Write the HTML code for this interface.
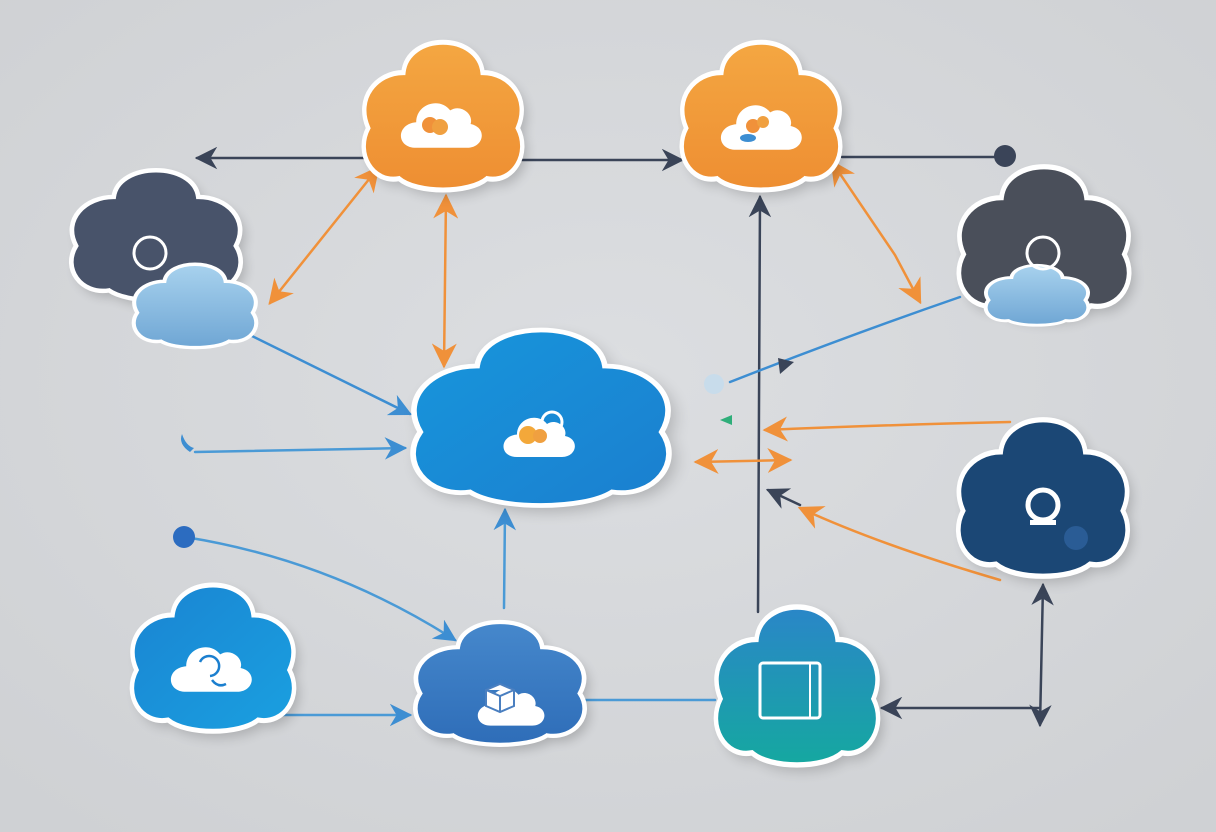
<!DOCTYPE html>
<html><head><meta charset="utf-8"><style>
html,body{margin:0;padding:0;background:#d5d7da;}
svg{display:block}
</style></head><body>
<svg width="1216" height="832" viewBox="0 0 1216 832" xmlns="http://www.w3.org/2000/svg">
<defs>
<radialGradient id="bg" cx="50%" cy="45%" r="70%"><stop offset="0" stop-color="#dcdee1"/><stop offset="1" stop-color="#cfd1d4"/></radialGradient>
<path id="c" d="M -45 -45 C -40 -85 40 -85 45 -45 C 75 -45 100 -20 85 10 C 100 35 80 65 50 60 C 30 75 -30 75 -50 60 C -80 65 -100 35 -85 10 C -100 -20 -75 -45 -45 -45 Z"/>
<path id="sc" d="M -14 14 C -26 14 -26 0 -14 -1 C -14 -12 0 -16 6 -8 C 12 -12 20 -6 18 0 C 28 2 26 14 16 14 Z"/>
<linearGradient id="or" x1="0" y1="0" x2="0" y2="1"><stop offset="0" stop-color="#f4a742"/><stop offset="1" stop-color="#ee8e32"/></linearGradient>
<linearGradient id="bb" x1="0" y1="0" x2="1" y2="1"><stop offset="0" stop-color="#1796dc"/><stop offset="1" stop-color="#1b7fcf"/></linearGradient>
<linearGradient id="bl" x1="0" y1="0" x2="1" y2="1"><stop offset="0" stop-color="#1a84d2"/><stop offset="1" stop-color="#1aa0e0"/></linearGradient>
<linearGradient id="bm" x1="0" y1="0" x2="0" y2="1"><stop offset="0" stop-color="#4688cc"/><stop offset="1" stop-color="#2e6db8"/></linearGradient>
<linearGradient id="tl" x1="0" y1="0" x2="0" y2="1"><stop offset="0" stop-color="#2a86c8"/><stop offset="1" stop-color="#15a8a0"/></linearGradient>
<linearGradient id="lb" x1="0" y1="0" x2="0" y2="1"><stop offset="0" stop-color="#a8d2ee"/><stop offset="1" stop-color="#6fa6d4"/></linearGradient>
<filter id="sh" x="-20%" y="-20%" width="140%" height="140%"><feGaussianBlur stdDeviation="6"/></filter>
<marker id="ad" viewBox="0 0 10 10" refX="9" refY="5" markerWidth="9" markerHeight="9" orient="auto-start-reverse"><path d="M0 0L10 5L0 10L3 5z" fill="#3a4458"/></marker>
<marker id="ao" viewBox="0 0 10 10" refX="9" refY="5" markerWidth="10" markerHeight="10" orient="auto-start-reverse"><path d="M0 0L10 5L0 10L3 5z" fill="#f0913a"/></marker>
<marker id="ab" viewBox="0 0 10 10" refX="9" refY="5" markerWidth="9" markerHeight="9" orient="auto-start-reverse"><path d="M0 0L10 5L0 10L3 5z" fill="#3d8ed2"/></marker>
</defs>
<rect width="1216" height="832" fill="url(#bg)"/>

<g fill="none" stroke-width="2.5" stroke-linecap="round">
<line x1="380" y1="158" x2="197" y2="158" stroke="#3a4458" marker-end="url(#ad)"/>
<line x1="515" y1="160" x2="682" y2="160" stroke="#3a4458" marker-end="url(#ad)"/>
<line x1="842" y1="157" x2="1000" y2="157" stroke="#3a4458"/>
<circle cx="1005" cy="156" r="11" fill="#3a4458" stroke="none"/>
<line x1="378" y1="168" x2="270" y2="303" stroke="#f0913a" marker-start="url(#ao)" marker-end="url(#ao)"/>
<line x1="446" y1="196" x2="444" y2="366" stroke="#f0913a" marker-start="url(#ao)" marker-end="url(#ao)"/>
<path d="M832 162 L895 255 L920 302" stroke="#f0913a" marker-start="url(#ao)" marker-end="url(#ao)"/>
<line x1="760" y1="197" x2="758" y2="612" stroke="#3a4458" marker-start="url(#ad)"/>
<line x1="250" y1="335" x2="410" y2="414" stroke="#3d8ed2" marker-end="url(#ab)"/>
<line x1="195" y1="452" x2="405" y2="448" stroke="#4a9ad6" marker-end="url(#ab)"/>
<path d="M185 537 Q330 560 455 640" stroke="#4a9ad6" marker-end="url(#ab)"/>
<circle cx="184" cy="537" r="11" fill="#2c6cc0" stroke="none"/>
<line x1="504" y1="608" x2="505" y2="510" stroke="#4a9ad6" marker-end="url(#ab)"/>
<line x1="272" y1="715" x2="410" y2="715" stroke="#4a9ad6" marker-end="url(#ab)"/>
<line x1="586" y1="700" x2="715" y2="700" stroke="#4a9ad6"/>
<line x1="1040" y1="708" x2="882" y2="708" stroke="#3a4458" marker-end="url(#ad)"/>
<line x1="1043" y1="585" x2="1040" y2="725" stroke="#3a4458" marker-start="url(#ad)" marker-end="url(#ad)"/>
<path d="M960 297 Q850 335 730 382" stroke="#3d8ed2"/>
<path d="M778 358 l16 4 l-14 12z" fill="#3a4458" stroke="none"/>
<circle cx="714" cy="384" r="10" fill="#c8dceb" stroke="none"/>
<path d="M1010 422 Q880 425 765 430" stroke="#f0913a" marker-end="url(#ao)"/>
<line x1="790" y1="460" x2="696" y2="462" stroke="#f0913a" marker-start="url(#ao)" marker-end="url(#ao)"/>
<path d="M1000 580 Q880 545 800 508" stroke="#f0913a" marker-end="url(#ao)"/>
<line x1="800" y1="505" x2="768" y2="490" stroke="#3a4458" marker-end="url(#ad)"/>
<path d="M720 420 l12 -5 l0 10z" fill="#2fae7a" stroke="none"/>
<path d="M190 452 q-12 -8 -8 -18 q4 12 12 14z" fill="#3d8ed2" stroke="none"/>
</g>

<g>
<use href="#c" transform="translate(448,124) scale(0.88,1.01)" fill="#000" opacity=".18" filter="url(#sh)"/>
<use href="#c" transform="translate(443,118) scale(0.88,1.01)" fill="url(#or)" stroke="#fff" stroke-width="5"/>
<use href="#c" transform="translate(766,124) scale(0.88,1.01)" fill="#000" opacity=".18" filter="url(#sh)"/>
<use href="#c" transform="translate(761,118) scale(0.88,1.01)" fill="url(#or)" stroke="#fff" stroke-width="5"/>
<use href="#c" transform="translate(161,243) scale(0.94,0.89)" fill="#000" opacity=".18" filter="url(#sh)"/>
<use href="#c" transform="translate(156,237) scale(0.94,0.89)" fill="#48536a" stroke="#fff" stroke-width="5"/>
<use href="#c" transform="translate(1049,250) scale(0.945,1.03)" fill="#000" opacity=".18" filter="url(#sh)"/>
<use href="#c" transform="translate(1044,244) scale(0.945,1.03)" fill="#4a4f5a" stroke="#fff" stroke-width="5"/>
<use href="#c" transform="translate(547,426) scale(1.42,1.2)" fill="#000" opacity=".2" filter="url(#sh)"/>
<use href="#c" transform="translate(541,420) scale(1.42,1.2)" fill="url(#bb)" stroke="#fff" stroke-width="4"/>
<use href="#c" transform="translate(1048,506) scale(0.94,1.07)" fill="#000" opacity=".18" filter="url(#sh)"/>
<use href="#c" transform="translate(1043,500) scale(0.94,1.07)" fill="#1b4775" stroke="#fff" stroke-width="5"/>
<use href="#c" transform="translate(218,666) scale(0.9,1.0)" fill="#000" opacity=".18" filter="url(#sh)"/>
<use href="#c" transform="translate(213,660) scale(0.9,1.0)" fill="url(#bl)" stroke="#fff" stroke-width="5"/>
<use href="#c" transform="translate(505,691) scale(0.94,0.84)" fill="#000" opacity=".18" filter="url(#sh)"/>
<use href="#c" transform="translate(500,685) scale(0.94,0.84)" fill="url(#bm)" stroke="#fff" stroke-width="5"/>
<use href="#c" transform="translate(802,694) scale(0.9,1.08)" fill="#000" opacity=".18" filter="url(#sh)"/>
<use href="#c" transform="translate(797,688) scale(0.9,1.08)" fill="url(#tl)" stroke="#fff" stroke-width="5"/>
<use href="#c" transform="translate(195,307) scale(0.68,0.57)" fill="url(#lb)" stroke="#fff" stroke-width="6"/>
<use href="#c" transform="translate(1037,296) scale(0.57,0.41)" fill="url(#lb)" stroke="#fff" stroke-width="7"/>
</g>

<g>
<use href="#sc" transform="translate(440,124) scale(1.7)" fill="#fff"/>
<circle cx="430" cy="125" r="8" fill="#f0913a"/><circle cx="440" cy="127" r="8" fill="#f0a040"/>
<use href="#sc" transform="translate(760,126) scale(1.7)" fill="#fff"/>
<circle cx="753" cy="126" r="7" fill="#f0913a"/><circle cx="763" cy="122" r="6" fill="#f0a040"/><ellipse cx="748" cy="138" rx="8" ry="4" fill="#3d8ed2"/>
<circle cx="150" cy="253" r="16" fill="none" stroke="#fff" stroke-width="3"/>
<circle cx="1043" cy="253" r="16" fill="none" stroke="#fff" stroke-width="3"/>
<use href="#sc" transform="translate(538,436) scale(1.5)" fill="#fff"/>
<circle cx="528" cy="435" r="9" fill="#f3a83a"/><circle cx="540" cy="436" r="7" fill="#f0a040"/>
<circle cx="552" cy="422" r="10" fill="none" stroke="#fff" stroke-width="3"/>
<circle cx="1043" cy="505" r="15" fill="none" stroke="#fff" stroke-width="5"/>
<rect x="1030" y="520" width="26" height="5" fill="#fff"/><circle cx="1076" cy="538" r="12" fill="#2a5c95"/>
<use href="#sc" transform="translate(210,668) scale(1.7)" fill="#fff"/>
<path d="M200 662 a10 10 0 1 1 10 14 M212 680 q6 8 14 4" fill="none" stroke="#1b7fcf" stroke-width="2.5"/>
<use href="#sc" transform="translate(510,706) scale(1.4)" fill="#fff"/>
<path d="M486 690 l14 -6 l14 6 l0 16 l-14 6 l-14 -6z M486 690 l14 6 l14 -6 M500 696 l0 16" fill="#fff" stroke="#4a7fc0" stroke-width="2"/>
<rect x="760" y="663" width="60" height="55" rx="3" fill="none" stroke="#fff" stroke-width="3"/>
<line x1="810" y1="663" x2="810" y2="718" stroke="#fff" stroke-width="2"/>
</g>
</svg>
</body></html>
